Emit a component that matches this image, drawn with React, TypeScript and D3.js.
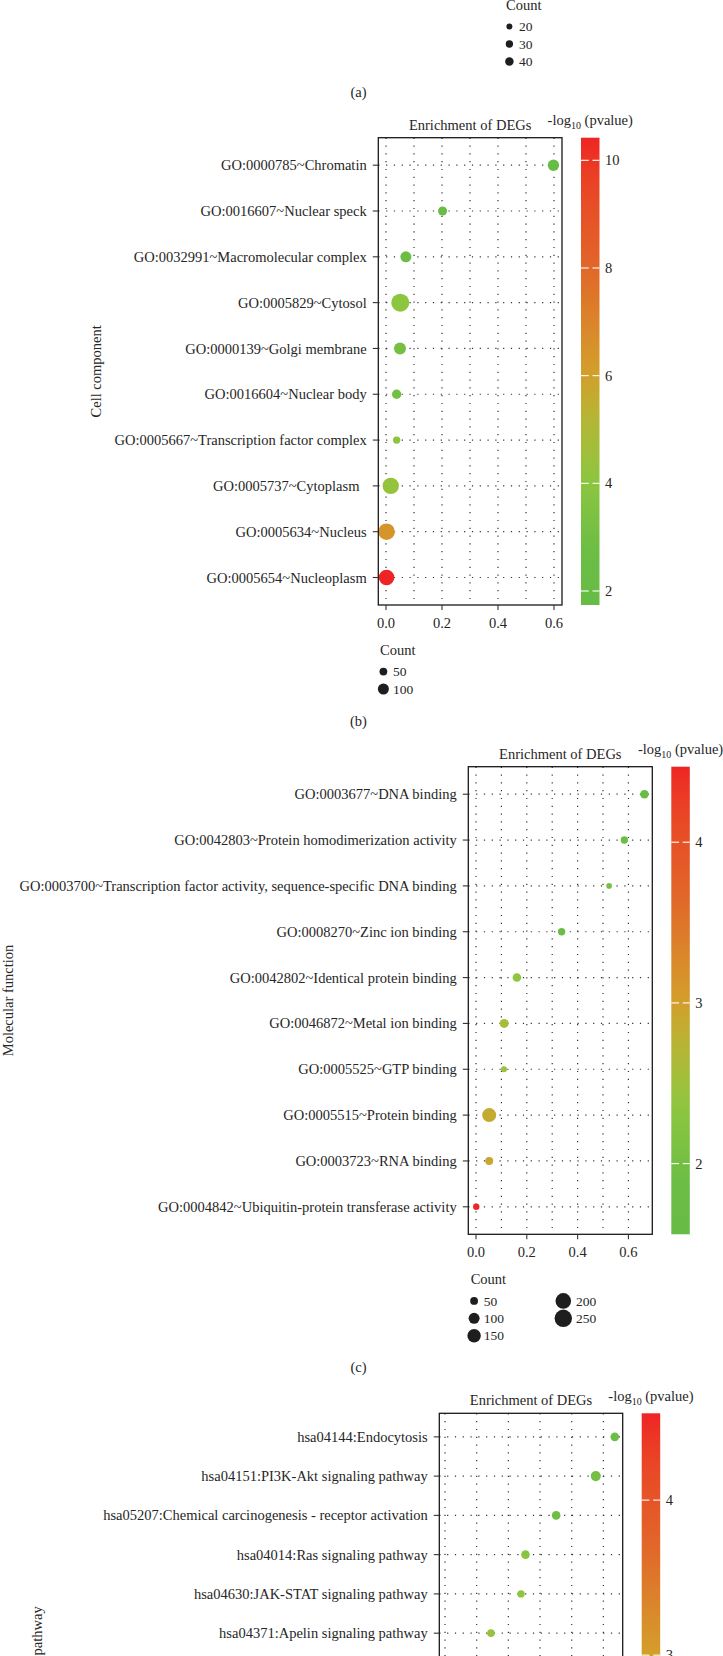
import React from 'react';
import * as d3 from 'd3';

// (a) biological process - only the size legend is left on the page
const bpCountBreaks = [20, 30, 40];

// (b) cell component
const ccTerms = [
  'GO:0000785~Chromatin',
  'GO:0016607~Nuclear speck',
  'GO:0032991~Macromolecular complex',
  'GO:0005829~Cytosol',
  'GO:0000139~Golgi membrane',
  'GO:0016604~Nuclear body',
  'GO:0005667~Transcription factor complex',
  'GO:0005737~Cytoplasm  ',
  'GO:0005634~Nucleus',
  'GO:0005654~Nucleoplasm',
];
const ccRatio = [0.598, 0.202, 0.071, 0.051, 0.05, 0.038, 0.038, 0.017, 0.002, 0.002];
const ccCount = [107, 67, 100, 268, 119, 73, 45, 222, 228, 201];
const ccLogP = [1.9, 2.2, 2.7, 4.05, 3.1, 3.0, 4.0, 4.3, 6.4, 10.42];
const ccXLim = [-0.0275, 0.6286];
const ccPLim = [1.74, 10.42];
const ccPTicks = [2, 4, 6, 8, 10];
const ccCountBreaks = [50, 100];

// (c) molecular function
const mfTerms = [
  'GO:0003677~DNA binding',
  'GO:0042803~Protein homodimerization activity',
  'GO:0003700~Transcription factor activity, sequence-specific DNA binding',
  'GO:0008270~Zinc ion binding',
  'GO:0042802~Identical protein binding',
  'GO:0046872~Metal ion binding',
  'GO:0005525~GTP binding',
  'GO:0005515~Protein binding',
  'GO:0003723~RNA binding',
  'GO:0004842~Ubiquitin-protein transferase activity',
];
const mfRatio = [0.663, 0.584, 0.524, 0.337, 0.161, 0.111, 0.11, 0.052, 0.052, 0.001];
const mfCount = [61, 45, 26, 45, 61, 67, 30, 162, 53, 34];
const mfLogP = [1.7, 1.8, 2.05, 1.9, 2.35, 2.6, 2.5, 2.85, 2.9, 4.47];
const mfXLim = [-0.0303, 0.694];
const mfPLim = [1.56, 4.47];
const mfPTicks = [2, 3, 4];
const mfCountBreaks = [[50, 100, 150], [200, 250]];

// (d) KEGG pathway - 12 rows, only the first 6 fit on the page
const keggTerms = [
  'hsa04144:Endocytosis',
  'hsa04151:PI3K-Akt signaling pathway',
  'hsa05207:Chemical carcinogenesis - receptor activation',
  'hsa04014:Ras signaling pathway',
  'hsa04630:JAK-STAT signaling pathway',
  'hsa04371:Apelin signaling pathway',
];
const keggRatio = [0.536, 0.476, 0.351, 0.254, 0.24, 0.145];
const keggCount = [61, 83, 61, 61, 45, 48];
const keggLogP = [1.8, 1.95, 1.9, 2.25, 2.3, 2.4];
const keggRows = 12;
const keggXLim = [-0.018, 0.561];
const keggPLim = [1.47, 4.56];
const keggPTicks = [2, 3, 4];

const FONT = '"Liberation Serif", "Times New Roman", serif';
const INK = '#262626';
const FS = 14.5;

const colorStops = [0, 0.12, 0.27, 0.4, 0.5, 0.72, 1];
const colorHex = ['#66bc46', '#6cbd45', '#8dc63f', '#b5b535', '#d39e2b', '#e1662a', '#ee2524'];

const makeColor = (lim: number[]) =>
  d3.scaleLinear<string>()
    .domain(colorStops.map((f) => lim[0] + f * (lim[1] - lim[0])))
    .range(colorHex)
    .interpolate(d3.interpolateLab)
    .clamp(true);

type Box = { x: number; y: number; w: number; h: number };

const Panel = ({ id, terms, ratio, count, logp, rows, xLim, pLim, pTicks, box, yTitle, yTitleX, r100 }: any) => {
  const b: Box = box;
  const x = d3.scaleLinear().domain(xLim).range([b.x, b.x + b.w]);
  const y = d3.scalePoint<number>().domain(d3.range(rows)).range([b.y, b.y + b.h]).padding(0.6);
  const r = d3.scaleSqrt().domain([0, 100]).range([0, r100]);
  const color = makeColor(pLim);
  const py = d3.scaleLinear().domain(pLim).range([b.y + b.h, b.y]);
  const barX = b.x + b.w + 19;
  const barW = 18.5;
  const shown = d3.range(terms.length);
  const stops = d3.range(0, 1.0001, 0.05);
  const dot = '1.2 6.6';

  return (
    <g>
      <defs>
        <linearGradient id={`grad-${id}`} x1="0" y1="1" x2="0" y2="0">
          {stops.map((t) => (
            <stop key={t} offset={t} stopColor={color(pLim[0] + t * (pLim[1] - pLim[0]))} />
          ))}
        </linearGradient>
      </defs>

      {/* grid */}
      {x.ticks(7).map((v) => (
        <line key={'gx' + v} x1={x(v)} x2={x(v)} y1={b.y} y2={b.y + b.h}
          stroke="#333" strokeWidth={1.2} strokeDasharray={dot} />
      ))}
      {shown.map((i) => (
        <line key={'gy' + i} x1={b.x} x2={b.x + b.w} y1={y(i)} y2={y(i)}
          stroke="#333" strokeWidth={1.2} strokeDasharray={dot} />
      ))}

      {/* points */}
      {shown.map((i) => (
        <circle key={'p' + i} cx={x(ratio[i])} cy={y(i)} r={r(count[i])} fill={color(logp[i])} />
      ))}

      <rect x={b.x} y={b.y} width={b.w} height={b.h} fill="none" stroke="#1a1a1a" strokeWidth={1.3} />

      {/* y axis */}
      {shown.map((i) => (
        <g key={'yt' + i}>
          <line x1={b.x - 5.5} x2={b.x} y1={y(i)} y2={y(i)} stroke="#333" strokeWidth={1.1} />
          <text x={b.x - 11.6} y={y(i)} dy="0.35em" textAnchor="end" fontSize={FS}
            fill={INK} style={{ whiteSpace: 'pre' }}>{terms[i]}</text>
        </g>
      ))}
      <text transform={`translate(${yTitleX},${b.y + b.h / 2}) rotate(-90)`} textAnchor="middle"
        fontSize={FS} fill={INK}>{yTitle}</text>

      {/* x axis */}
      {x.ticks(4).map((v) => (
        <g key={'xt' + v}>
          <line x1={x(v)} x2={x(v)} y1={b.y + b.h} y2={b.y + b.h + 5} stroke="#333" strokeWidth={1.1} />
          <text x={x(v)} y={b.y + b.h + 23} textAnchor="middle" fontSize={FS} fill={INK}>
            {d3.format('.1f')(v)}
          </text>
        </g>
      ))}

      <text x={b.x + b.w / 2} y={b.y - 8} textAnchor="middle" fontSize={FS} fill={INK}>
        Enrichment of DEGs
      </text>

      {/* colour bar */}
      <rect x={barX} y={b.y} width={barW} height={b.h} fill={`url(#grad-${id})`} />
      {pTicks.map((v: number) => (
        <g key={'ct' + v}>
          <line x1={barX} x2={barX + barW * 0.42} y1={py(v)} y2={py(v)} stroke="#fff" strokeWidth={1.1} />
          <line x1={barX + barW * 0.62} x2={barX + barW} y1={py(v)} y2={py(v)} stroke="#fff" strokeWidth={1.1} />
          <text x={barX + barW + 5.5} y={py(v)} dy="0.35em" fontSize={FS} fill={INK}>{v}</text>
        </g>
      ))}
      <text x={barX + barW / 2} y={b.y - 12.5} textAnchor="middle" fontSize={FS} fill={INK}>
        -log<tspan fontSize={10} dy={4}>10</tspan><tspan dy={-4}> (pvalue)</tspan>
      </text>
    </g>
  );
};

const SizeLegend = ({ lx, cy, columns, r100 }: any) => {
  const r = d3.scaleSqrt().domain([0, 100]).range([0, r100]);
  const colKey = [3.4, 92.6];
  const colLab = [13, 105.3];
  return (
    <g>
      <text x={lx} y={cy + 5} fontSize={FS} fill={INK}>Count</text>
      {columns.map((col: number[], c: number) =>
        col.map((v, i) => {
          const yy = cy + 21.6 + i * 17.4;
          return (
            <g key={c + '-' + v}>
              <circle cx={lx + colKey[c]} cy={yy} r={r(v)} fill="#1e1e1e" />
              <text x={lx + colLab[c]} y={yy} dy="0.35em" fontSize={13.5} fill={INK}>{v}</text>
            </g>
          );
        })
      )}
    </g>
  );
};

const Tag = ({ y, label }: any) => (
  <text x={358.5} y={y} textAnchor="middle" fontSize={FS} fill={INK}>{label}</text>
);

export default function App() {
  return (
    <svg width={723} height={1656} viewBox="0 0 723 1656"
      style={{ position: 'absolute', left: 0, top: 0, background: '#fff', fontFamily: FONT, overflow: 'hidden' }}>
      <SizeLegend lx={506} cy={5} columns={[bpCountBreaks]} r100={6.7} />
      <Tag y={97} label="(a)" />

      <Panel id="cc" terms={ccTerms} ratio={ccRatio} count={ccCount} logp={ccLogP} rows={ccTerms.length}
        xLim={ccXLim} pLim={ccPLim} pTicks={ccPTicks}
        box={{ x: 378.3, y: 137.7, w: 183.7, h: 467.3 }} yTitle="Cell component" yTitleX={101.3} r100={5.5} />
      <SizeLegend lx={380} cy={650} columns={[ccCountBreaks]} r100={5.5} />
      <Tag y={725.5} label="(b)" />

      <Panel id="mf" terms={mfTerms} ratio={mfRatio} count={mfCount} logp={mfLogP} rows={mfTerms.length}
        xLim={mfXLim} pLim={mfPLim} pTicks={mfPTicks}
        box={{ x: 468.3, y: 766.7, w: 184, h: 467.6 }} yTitle="Molecular function" yTitleX={13} r100={5.5} />
      <SizeLegend lx={470.7} cy={1279.3} columns={mfCountBreaks} r100={5.5} />
      <Tag y={1371.5} label="(c)" />

      <Panel id="kegg" terms={keggTerms} ratio={keggRatio} count={keggCount} logp={keggLogP} rows={keggRows}
        xLim={keggXLim} pLim={keggPLim} pTicks={keggPTicks}
        box={{ x: 439.3, y: 1413.3, w: 183.4, h: 479 }} yTitle="KEGG pathway" yTitleX={41.5} r100={5.5} />
    </svg>
  );
}
